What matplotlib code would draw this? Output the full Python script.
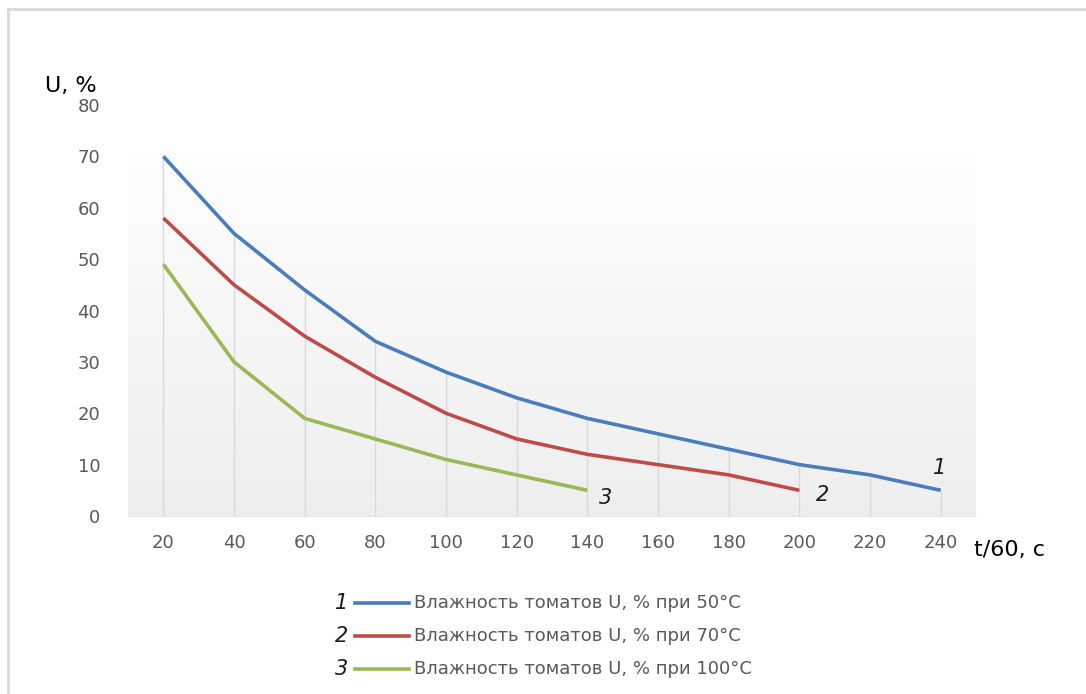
import numpy as np
import matplotlib
matplotlib.use("Agg")
import matplotlib.pyplot as plt
from matplotlib.patches import Rectangle
from matplotlib.lines import Line2D

plt.rcParams['font.family'] = ['DejaVu Sans']

# Drying time (t/60, c) and tomato moisture U, % at three temperatures
times = [20, 40, 60, 80, 100, 120, 140, 160, 180, 200, 220, 240]
u_50 = [70, 55, 44, 34, 28, 23, 19, 16, 13, 10, 8, 5]
u_70 = [58, 45, 35, 27, 20, 15, 12, 10, 8, 5]
u_100 = [49, 30, 19, 15, 11, 8, 5]
series_names = ["Влажность томатов U, % при 50°C",
                "Влажность томатов U, % при 70°C",
                "Влажность томатов U, % при 100°C"]
series_tags = ["1", "2", "3"]
colors = ["#4a7ebb", "#be4b48", "#98b954"]
y_ticks = [0, 10, 20, 30, 40, 50, 60, 70, 80]

W, H = 1086, 694
fig = plt.figure(figsize=(W / 100, H / 100), dpi=100)

# chart frame: top and left edges only
frame = dict(transform=fig.transFigure, color="#d9d9d9", linewidth=2.0)
fig.add_artist(Line2D([8 / W, 1.0], [1 - 9 / H, 1 - 9 / H], **frame))
fig.add_artist(Line2D([8 / W, 8 / W], [1 - 9 / H, 0.0], **frame))

ax = fig.add_axes([128 / W, 1 - 516 / H, 848 / W, 411 / H])
ax.patch.set_visible(False)
pos = np.arange(len(times))
ax.set_xlim(-0.5, len(times) - 0.5)
ax.set_ylim(0, 80)

# gradient plot-area fill, near white at top to light gray at bottom
grad = np.linspace(1.0, 0.0, 256).reshape(-1, 1)
top = np.array([0.995, 0.995, 0.995])
bot = np.array([0.935, 0.935, 0.935])
img = top * grad[..., None] + bot * (1 - grad[..., None])
ax.imshow(img, extent=[-0.5, len(times) - 0.5, 0, 70.8], aspect="auto",
          zorder=0, interpolation="bilinear")

# drop lines from the highest series at each time down to the axis
series = [u_50, u_70, u_100]
tops = [max(s[i] for s in series if i < len(s)) for i in range(len(times))]
ax.vlines(pos, 0, tops, color="#d9d9d9", linewidth=1.0, zorder=1)

for vals, c in zip(series, colors):
    ax.plot(pos[:len(vals)], vals, color=c, linewidth=2.6, zorder=3,
            solid_capstyle="butt")

for side in ["top", "right", "left"]:
    ax.spines[side].set_visible(False)
ax.spines["bottom"].set_color("#e4e4e4")

ax.set_xticks(pos)
ax.set_xticklabels([str(t) for t in times])
ax.set_yticks(y_ticks)
ax.set_yticklabels([str(v) for v in y_ticks])
ax.tick_params(axis="both", length=0, labelsize=13, labelcolor="#595959")
ax.tick_params(axis="x", pad=13)
ax.tick_params(axis="y", pad=20)

# curve tags near the end of each line
tag_kw = dict(style="italic", fontsize=15, ha="center", va="center",
              color="#1a1a1a")
ax.text(pos[len(u_50) - 1] - 0.02, u_50[-1] + 4.4, series_tags[0], **tag_kw)
ax.text(pos[len(u_70) - 1] + 0.33, u_70[-1] - 1.0, series_tags[1], **tag_kw)
ax.text(pos[len(u_100) - 1] + 0.26, u_100[-1] - 1.4, series_tags[2], **tag_kw)

# axis titles
fig.text(45 / W, 1 - 86 / H, "U, %", fontsize=16, color="#000000",
         ha="left", va="center")
fig.text(974 / W, 1 - 550 / H, "t/60, c", fontsize=16, color="#000000",
         ha="left", va="center")

# legend drawn as tagged rows below the plot
rows_y = [603, 636, 669]
for tag, name, c, yy in zip(series_tags, series_names, colors, rows_y):
    yf = 1 - yy / H
    fig.text(342 / W, yf, tag, style="italic", fontsize=15, color="#1a1a1a",
             ha="center", va="center")
    fig.add_artist(Line2D([355 / W, 409 / W], [yf, yf], transform=fig.transFigure,
                          color=c, linewidth=2.6))
    fig.text(414 / W, yf, name, fontsize=13, color="#595959",
             ha="left", va="center")

fig.savefig("out.png", dpi=100)
